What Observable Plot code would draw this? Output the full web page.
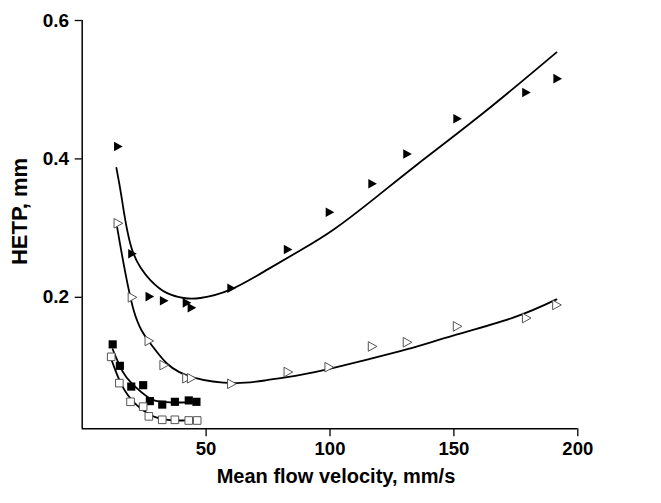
<!DOCTYPE html>
<html>
<head>
<meta charset="utf-8">
<script src="https://cdn.jsdelivr.net/npm/d3@7"></script>
<script src="https://cdn.jsdelivr.net/npm/@observablehq/plot@0.6"></script>
<style>
  html, body { margin: 0; padding: 0; background: #fff; }
  #chart { width: 661px; height: 503px; }
</style>
</head>
<body>
<div id="chart"></div>
<script>
// Series 1: filled right triangles
const filledTriX = [14.4, 20.1, 27.1, 32.9, 42.1, 44.1, 60.1, 82.9, 99.8, 117.0, 131.1, 151.3, 179.1, 191.7];
const filledTriY = [0.418, 0.263, 0.201, 0.195, 0.192, 0.185, 0.213, 0.269, 0.323, 0.364, 0.407, 0.458, 0.496, 0.516];
// Series 2: open right triangles
const openTriX = [14.4, 20.1, 26.9, 32.9, 42.1, 44.0, 60.2, 83.0, 99.5, 117.0, 131.1, 151.3, 179.2, 191.4];
const openTriY = [0.307, 0.200, 0.137, 0.102, 0.083, 0.083, 0.075, 0.092, 0.099, 0.129, 0.135, 0.158, 0.170, 0.189];
// Series 3: filled squares
const filledSqX = [12.3, 15.2, 19.8, 24.6, 27.3, 32.3, 37.4, 43.0, 46.1];
const filledSqY = [0.132, 0.101, 0.071, 0.073, 0.050, 0.045, 0.049, 0.051, 0.049];
// Series 4: open squares
const openSqX = [11.7, 15.0, 19.5, 24.6, 26.9, 32.3, 37.4, 43.0, 46.4];
const openSqY = [0.114, 0.076, 0.049, 0.042, 0.028, 0.023, 0.023, 0.022, 0.022];

// Fitted curves
const fitFilledTriX = [13.8, 16.1, 20.2, 27.5, 34.3, 41.0, 47.7, 59.8, 74.7, 88.1, 101.5, 118.0, 135.2, 162.1, 191.4];
const fitFilledTriY = [0.387, 0.340, 0.268, 0.225, 0.206, 0.199, 0.199, 0.211, 0.240, 0.268, 0.298, 0.343, 0.392, 0.467, 0.554];
const fitOpenTriX = [14.1, 20.8, 27.6, 34.3, 45.0, 61.2, 74.0, 88.1, 100.2, 115.0, 131.2, 150.0, 174.2, 191.4];
const fitOpenTriY = [0.301, 0.181, 0.133, 0.104, 0.084, 0.076, 0.080, 0.088, 0.097, 0.110, 0.125, 0.145, 0.171, 0.197];
const fitFilledSqX = [12.3, 16.1, 20.2, 26.9, 32.3, 39.0, 45.7];
const fitFilledSqY = [0.125, 0.094, 0.075, 0.055, 0.049, 0.048, 0.049];
const fitOpenSqX = [11.7, 16.1, 21.5, 26.9, 32.3, 39.0, 45.7];
const fitOpenSqY = [0.111, 0.072, 0.046, 0.031, 0.024, 0.022, 0.023];

const xTicks = [50, 100, 150, 200];
const yTicks = [0.2, 0.4, 0.6];
const xLabel = "Mean flow velocity, mm/s";
const yLabel = "HETP, mm";

const pts = (xs, ys) => xs.map((x, i) => ({x, y: ys[i]}));

const triRight = {
  draw(ctx, size) {
    const r = Math.sqrt(size / Math.PI);
    ctx.moveTo(-r * 0.8, -r);
    ctx.lineTo(r, 0);
    ctx.lineTo(-r * 0.8, r);
    ctx.closePath();
  }
};

const font = "'Liberation Sans', Arial, Helvetica, sans-serif";

const lineOpts = {x: "x", y: "y", stroke: "black", strokeWidth: 1.8, curve: "natural"};

const chart = Plot.plot({
  width: 661,
  height: 503,
  marginLeft: 81.7,
  marginRight: 83.7,
  marginTop: 20,
  marginBottom: 74.7,
  style: {fontFamily: font, background: "white", color: "black"},
  x: {domain: [0, 200]},
  y: {domain: [0.01, 0.6]},
  marks: [
    Plot.ruleX([0], {y1: 0.01, y2: 0.6, stroke: "black", strokeWidth: 1.5}),
    Plot.ruleY([0.01], {x1: 0, x2: 200, stroke: "black", strokeWidth: 1.5}),
    Plot.axisX({ticks: xTicks, tickSize: 8, tickPadding: 5, fontSize: 18.5, fontWeight: "bold", label: null, strokeWidth: 1.3, tickFormat: d => String(d)}),
    Plot.axisY({ticks: yTicks, tickSize: 7, tickPadding: 6, fontSize: 19, fontWeight: "bold", label: null, strokeWidth: 1.3, tickFormat: d => d.toFixed(1)}),
    Plot.line(pts(fitFilledTriX, fitFilledTriY), lineOpts),
    Plot.line(pts(fitOpenTriX, fitOpenTriY), lineOpts),
    Plot.line(pts(fitFilledSqX, fitFilledSqY), lineOpts),
    Plot.line(pts(fitOpenSqX, fitOpenSqY), lineOpts),
    Plot.dot(pts(filledTriX, filledTriY), {x: "x", y: "y", symbol: triRight, r: 4.8, fill: "black", stroke: "none"}),
    Plot.dot(pts(openTriX, openTriY), {x: "x", y: "y", symbol: triRight, r: 4.8, fill: "white", stroke: "#555", strokeWidth: 1}),
    Plot.dot(pts(filledSqX, filledSqY), {x: "x", y: "y", symbol: "square", r: 4.6, fill: "black", stroke: "none"}),
    Plot.dot(pts(openSqX, openSqY), {x: "x", y: "y", symbol: "square", r: 4.3, fill: "white", stroke: "#555", strokeWidth: 1}),
    Plot.text([xLabel], {frameAnchor: "bottom", dx: 6, dy: 54, fontSize: 20, fontWeight: "bold", fill: "black"})
  ]
});

// Rotated y-axis title
d3.select(chart).append("text")
  .attr("transform", "translate(27,211.5) rotate(-90)")
  .attr("text-anchor", "middle")
  .attr("font-family", font)
  .attr("font-size", 22)
  .attr("font-weight", "bold")
  .attr("fill", "black")
  .text(yLabel);

document.getElementById("chart").appendChild(chart);
</script>
</body>
</html>
